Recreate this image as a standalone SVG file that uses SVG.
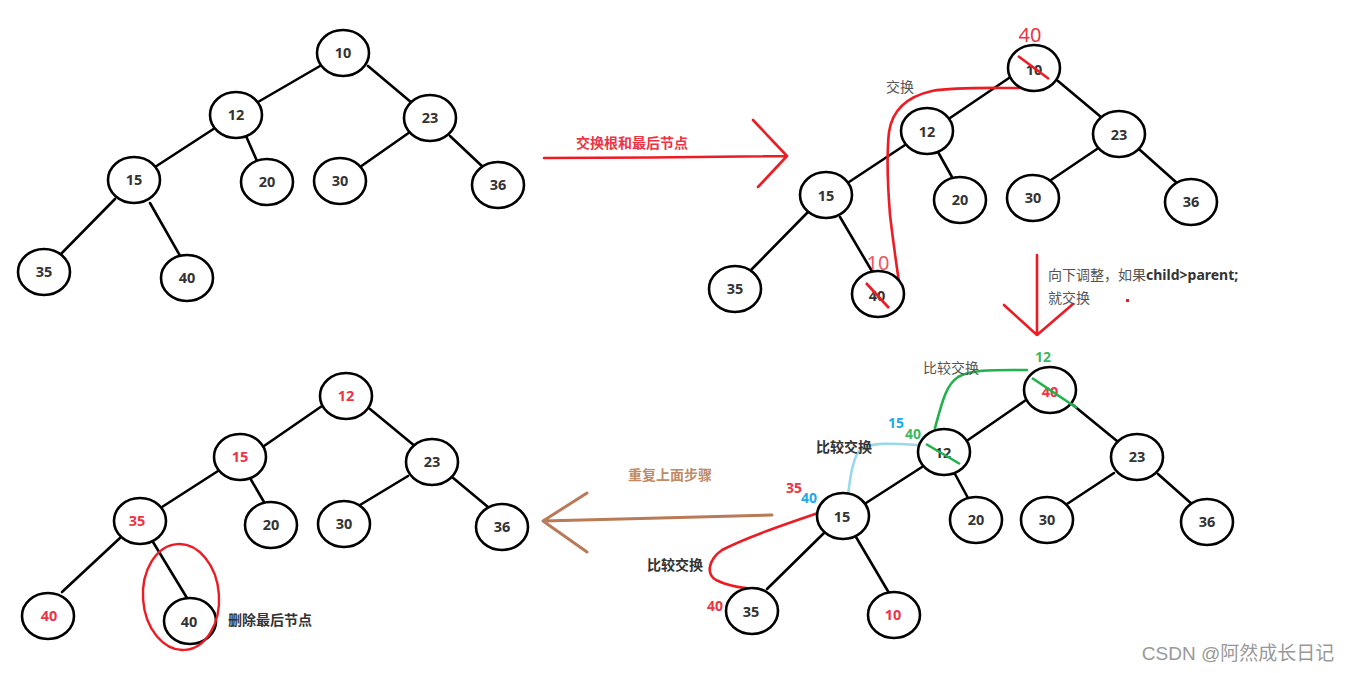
<svg xmlns="http://www.w3.org/2000/svg" width="1349" height="673" viewBox="0 0 1349 673">
<style>
.node ellipse{fill:#fff;stroke:#000;stroke-width:2.6}
.t{font-family:"Noto Sans","Noto Sans CJK SC",sans-serif;font-weight:bold;font-size:14.5px;text-anchor:middle;fill:#333}
.tr{fill:#ee3344}
.edges line{stroke:#000;stroke-width:2.6;stroke-linecap:round}
.lbl{font-family:"Noto Sans CJK SC","Noto Sans",sans-serif;font-size:14px}
.b{font-weight:bold;fill:#333}
.g{fill:#555}
.red{stroke:#ed1c24;stroke-width:2.6;fill:none;stroke-linecap:round;stroke-linejoin:round}
.grn{stroke:#22b14c;stroke-width:2.6;fill:none;stroke-linecap:round}
.lb{stroke:#99d9ea;stroke-width:2.6;fill:none;stroke-linecap:round}
.brn{stroke:#b97a57;stroke-width:3;fill:none;stroke-linecap:round;stroke-linejoin:round}
.num{font-family:"Noto Sans",sans-serif;font-weight:bold;font-size:14px;text-anchor:middle}
</style>

<!-- connectors -->
<g id="connectors">
 <g class="edges">
  <!-- top-left tree -->
  <line x1="320" y1="66" x2="258" y2="102"/>
  <line x1="368" y1="66" x2="412" y2="103"/>
  <line x1="215" y1="128" x2="155" y2="167"/>
  <line x1="246" y1="136" x2="257" y2="161"/>
  <line x1="410" y1="132" x2="360" y2="167"/>
  <line x1="450" y1="136" x2="484" y2="168"/>
  <line x1="115" y1="199" x2="59" y2="256"/>
  <line x1="150" y1="203" x2="183" y2="261"/>
  <!-- top-right tree -->
  <line x1="1009" y1="78" x2="950" y2="118"/>
  <line x1="1058" y1="81" x2="1101" y2="117"/>
  <line x1="905" y1="145" x2="849" y2="182"/>
  <line x1="938" y1="152" x2="952" y2="177"/>
  <line x1="1097" y1="149" x2="1051" y2="180"/>
  <line x1="1140" y1="150" x2="1177" y2="183"/>
  <line x1="808" y1="212" x2="751" y2="270"/>
  <line x1="840" y1="217" x2="873" y2="273"/>
  <!-- bottom-right tree -->
  <line x1="1026" y1="400" x2="968" y2="440"/>
  <line x1="1073" y1="405" x2="1117" y2="441"/>
  <line x1="922" y1="467" x2="866" y2="503"/>
  <line x1="955" y1="474" x2="968" y2="498"/>
  <line x1="1114" y1="473" x2="1067" y2="504"/>
  <line x1="1158" y1="474" x2="1193" y2="505"/>
  <line x1="824" y1="533" x2="767" y2="589"/>
  <line x1="856" y1="537" x2="889" y2="593"/>
  <!-- bottom-left tree -->
  <line x1="322" y1="406" x2="264" y2="446"/>
  <line x1="370" y1="409" x2="416" y2="447"/>
  <line x1="218" y1="471" x2="162" y2="507"/>
  <line x1="250" y1="478" x2="264" y2="502"/>
  <line x1="408" y1="476" x2="360" y2="505"/>
  <line x1="452" y1="477" x2="488" y2="507"/>
  <line x1="120" y1="538" x2="62" y2="592"/>
  <line x1="153" y1="542" x2="187" y2="598"/>
 </g>
 <!-- step arrows -->
 <path class="red" d="M544,158 L650,157.5 L787,156 M753,120 L787,156 L758,187"/>
 <path class="red" d="M1037,255 L1037,335 M1004,305 L1037,335 L1073,304"/>
 <path class="brn" d="M772,515 L660,518 L543,521 M587,493 L543,521 L587,552"/>
 <!-- swap curves -->
 <path class="red" d="M1020,88 C985,88 955,87 932,91 C905,97 892,112 889,132 C886,160 888,190 890,215 C893,240 896,262 899,282"/>
 <path class="grn" d="M1027,370 C995,370 972,369 958,377 C946,385 942,402 935,428"/>
 <path class="lb" d="M918,445 C890,443 868,442 859,451 C852,461 850,480 848,495"/>
 <path class="red" d="M818,513 C780,526 745,538 722,550 C708,560 706,574 716,580 C726,585 736,587 746,588"/>
</g>

<!-- top-left tree -->
<g id="tl-10" class="node"><ellipse cx="343" cy="53" rx="26" ry="23"/><text class="t" x="343" y="58">10</text></g>
<g id="tl-12" class="node"><ellipse cx="236" cy="115" rx="26" ry="23"/><text class="t" x="236" y="120">12</text></g>
<g id="tl-23" class="node"><ellipse cx="430" cy="118" rx="26" ry="23"/><text class="t" x="430" y="123">23</text></g>
<g id="tl-15" class="node"><ellipse cx="134" cy="180" rx="26" ry="23"/><text class="t" x="134" y="185">15</text></g>
<g id="tl-20" class="node"><ellipse cx="267" cy="182" rx="26" ry="23"/><text class="t" x="267" y="187">20</text></g>
<g id="tl-30" class="node"><ellipse cx="340" cy="181" rx="26" ry="23"/><text class="t" x="340" y="186">30</text></g>
<g id="tl-36" class="node"><ellipse cx="498" cy="185" rx="26" ry="23"/><text class="t" x="498" y="190">36</text></g>
<g id="tl-35" class="node"><ellipse cx="44" cy="272" rx="26" ry="23"/><text class="t" x="44" y="277">35</text></g>
<g id="tl-40" class="node"><ellipse cx="187" cy="278" rx="26" ry="23"/><text class="t" x="187" y="283">40</text></g>

<!-- top-right tree -->
<g id="tr-10" class="node"><ellipse cx="1034" cy="68" rx="26" ry="23"/><text class="t" x="1034" y="75">10</text>
 <line x1="1018" y1="56" x2="1049" y2="79" stroke="#ed1c24" stroke-width="2.6"/>
 <text x="1030" y="42" font-family="Noto Sans,sans-serif" font-size="20" fill="#ee3344" text-anchor="middle">40</text></g>
<g id="tr-12" class="node"><ellipse cx="927" cy="131" rx="26" ry="23"/><text class="t" x="927" y="137">12</text></g>
<g id="tr-23" class="node"><ellipse cx="1119" cy="134" rx="26" ry="23"/><text class="t" x="1119" y="140">23</text></g>
<g id="tr-15" class="node"><ellipse cx="826" cy="195" rx="26" ry="23"/><text class="t" x="826" y="201">15</text></g>
<g id="tr-20" class="node"><ellipse cx="960" cy="200" rx="26" ry="23"/><text class="t" x="960" y="205">20</text></g>
<g id="tr-30" class="node"><ellipse cx="1033" cy="198" rx="26" ry="23"/><text class="t" x="1033" y="203">30</text></g>
<g id="tr-36" class="node"><ellipse cx="1191" cy="202" rx="26" ry="23"/><text class="t" x="1191" y="207">36</text></g>
<g id="tr-35" class="node"><ellipse cx="735" cy="289" rx="26" ry="23"/><text class="t" x="735" y="294">35</text></g>
<g id="tr-40" class="node"><ellipse cx="878" cy="294" rx="26" ry="23"/><text class="t" x="877" y="301">40</text>
 <line x1="866" y1="283" x2="889" y2="308" stroke="#ed1c24" stroke-width="2.6"/>
 <text x="878" y="270" font-family="Noto Sans,sans-serif" font-size="20" fill="#f05560" text-anchor="middle">10</text></g>

<!-- bottom-right tree -->
<g id="br-40" class="node"><ellipse cx="1050" cy="390" rx="26" ry="23"/><text class="t tr" x="1050" y="397">40</text>
 <line x1="1032" y1="378" x2="1077" y2="408" stroke="#22b14c" stroke-width="2.6"/></g>
<g id="br-12" class="node"><ellipse cx="944" cy="452" rx="26" ry="23"/><text class="t" x="943" y="458">12</text>
 <line x1="926" y1="444" x2="960" y2="464" stroke="#22b14c" stroke-width="2.6"/></g>
<g id="br-23" class="node"><ellipse cx="1137" cy="457" rx="26" ry="23"/><text class="t" x="1137" y="462">23</text></g>
<g id="br-15" class="node"><ellipse cx="843" cy="516" rx="26" ry="23"/><text class="t" x="842" y="522">15</text></g>
<g id="br-20" class="node"><ellipse cx="976" cy="520" rx="26" ry="23"/><text class="t" x="976" y="525">20</text></g>
<g id="br-30" class="node"><ellipse cx="1047" cy="520" rx="26" ry="23"/><text class="t" x="1047" y="525">30</text></g>
<g id="br-36" class="node"><ellipse cx="1207" cy="522" rx="26" ry="23"/><text class="t" x="1207" y="527">36</text></g>
<g id="br-35" class="node"><ellipse cx="752" cy="611" rx="26" ry="23"/><text class="t" x="751" y="617">35</text></g>
<g id="br-10" class="node"><ellipse cx="894" cy="615" rx="26" ry="23"/><text class="t tr" x="893" y="620">10</text></g>

<!-- bottom-left tree -->
<g id="bl-12" class="node"><ellipse cx="346" cy="396" rx="26" ry="23"/><text class="t tr" x="346" y="401">12</text></g>
<g id="bl-15" class="node"><ellipse cx="240" cy="457" rx="26" ry="23"/><text class="t tr" x="240" y="462">15</text></g>
<g id="bl-23" class="node"><ellipse cx="432" cy="462" rx="26" ry="23"/><text class="t" x="432" y="467">23</text></g>
<g id="bl-20" class="node"><ellipse cx="271" cy="525" rx="26" ry="23"/><text class="t" x="271" y="530">20</text></g>
<g id="bl-30" class="node"><ellipse cx="344" cy="524" rx="26" ry="23"/><text class="t" x="344" y="529">30</text></g>
<g id="bl-36" class="node"><ellipse cx="502" cy="527" rx="26" ry="23"/><text class="t" x="502" y="532">36</text></g>
<g id="bl-35" class="node"><ellipse cx="140" cy="521" rx="26" ry="23"/><text class="t tr" x="137" y="526">35</text></g>
<g id="bl-40a" class="node"><ellipse cx="48" cy="616" rx="26" ry="23"/><text class="t tr" x="49" y="621">40</text></g>
<g id="bl-40b" class="node"><ellipse cx="190" cy="621" rx="26" ry="23"/><text class="t" x="189" y="627">40</text></g>
<ellipse cx="181" cy="597" rx="38" ry="53" fill="none" stroke="#ed1c24" stroke-width="2.4" transform="rotate(-4 181 597)"/>

<!-- labels -->
<text class="lbl" x="632" y="148" text-anchor="middle" font-weight="bold" fill="#ee3344">交换根和最后节点</text>
<text class="lbl g" x="900" y="92" text-anchor="middle">交换</text>
<text class="lbl" x="1048" y="280"><tspan fill="#555">向下调整，如果</tspan><tspan font-family="Noto Sans,sans-serif" font-weight="bold" fill="#333">child&gt;parent;</tspan></text>
<text class="lbl g" x="1048" y="303">就交换</text>
<rect x="1126" y="299" width="3" height="3" fill="#ed1c24"/>
<text class="lbl g" x="951" y="373" text-anchor="middle">比较交换</text>
<text class="lbl b" x="844" y="452" text-anchor="middle">比较交换</text>
<text class="lbl b" x="675" y="570" text-anchor="middle">比较交换</text>
<text class="lbl" x="670" y="480" text-anchor="middle" font-weight="bold" fill="#c08a66">重复上面步骤</text>
<text class="lbl b" x="270" y="625" text-anchor="middle">删除最后节点</text>
<text class="num" x="1043" y="362" fill="#3cb95a">12</text>
<text class="num" x="896" y="428" fill="#22a8e8">15</text>
<text class="num" x="913" y="439" fill="#3cb95a">40</text>
<text class="num" x="794" y="493" fill="#ee3344">35</text>
<text class="num" x="809" y="503" fill="#22a8e8">40</text>
<text class="num" x="715" y="611" fill="#ee3344">40</text>
<text x="1238" y="660" text-anchor="middle" font-family="Liberation Sans,Noto Sans CJK SC,sans-serif" font-size="19" fill="#999">CSDN @阿然成长日记</text>
</svg>
